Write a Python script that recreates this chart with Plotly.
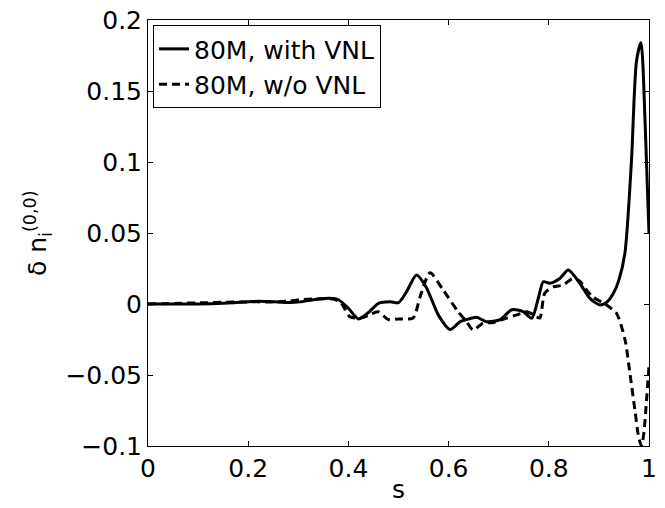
import plotly.graph_objects as go

# Solid: 80M, with VNL
s_with = [0, 0.1, 0.15, 0.2, 0.22, 0.25, 0.285, 0.303, 0.33, 0.363, 0.38, 0.40, 0.42, 0.44,
          0.46, 0.483, 0.5, 0.515, 0.536, 0.555, 0.58, 0.603, 0.623, 0.636, 0.656, 0.676,
          0.703, 0.726, 0.749, 0.766, 0.779, 0.789, 0.802, 0.822, 0.839, 0.862, 0.882, 0.902,
          0.915, 0.929, 0.940, 0.952, 0.965, 0.975, 0.984, 0.992, 1.0]
v_with = [0, 0, 0.0005, 0.0015, 0.002, 0.0015, 0.001, 0.0015, 0.003, 0.004, 0.003, -0.003,
          -0.0105, -0.006, 0.0005, 0.0016, 0.001, 0.008, 0.0204, 0.012, -0.008, -0.018,
          -0.0124, -0.011, -0.0094, -0.0125, -0.011, -0.004, -0.0054, -0.010, 0.004, 0.0157,
          0.0146, 0.018, 0.024, 0.0146, 0.004, -0.0007, 0.001, 0.0075, 0.017, 0.036, 0.101,
          0.171, 0.184, 0.13, 0.05]

# Dashed: 80M, w/o VNL
s_wo = [0, 0.2, 0.25, 0.28, 0.303, 0.33, 0.37, 0.385, 0.403, 0.423, 0.44, 0.459, 0.48, 0.50,
        0.529, 0.543, 0.563, 0.589, 0.619, 0.636, 0.649, 0.669, 0.689, 0.716, 0.736, 0.756,
        0.772, 0.782, 0.792, 0.809, 0.829, 0.848, 0.862, 0.875, 0.888, 0.915, 0.935, 0.952,
        0.962, 0.972, 0.979, 0.985, 0.99, 0.995, 1.0]
v_wo = [0, 0.0015, 0.0015, 0.002, 0.003, 0.0035, 0.0035, 0.001, -0.009, -0.01, -0.008,
        -0.0054, -0.011, -0.0105, -0.0099, 0.005, 0.022, 0.0099, -0.0054, -0.0125, -0.0183,
        -0.0134, -0.013, -0.0099, -0.0077, -0.0054, -0.008, -0.0099, 0.0077, 0.012, 0.0134,
        0.018, 0.016, 0.01, 0.005, -0.0007, -0.0065, -0.025, -0.049, -0.075, -0.093, -0.1,
        -0.09, -0.068, -0.044]

x_ticks = [0, 0.2, 0.4, 0.6, 0.8, 1]
x_tick_labels = ["0", "0.2", "0.4", "0.6", "0.8", "1"]
y_ticks = [-0.1, -0.05, 0, 0.05, 0.1, 0.15, 0.2]
y_tick_labels = ["\u22120.1", "\u22120.05", "0", "0.05", "0.1", "0.15", "0.2"]

FONT = "DejaVu Sans, Liberation Sans, Arial, sans-serif"
FS = 25

fig = go.Figure()
fig.add_trace(go.Scatter(x=s_with, y=v_with, mode="lines", name="80M, with VNL",
                         line=dict(color="black", width=3, shape="spline", smoothing=0.7)))
fig.add_trace(go.Scatter(x=s_wo, y=v_wo, mode="lines", name="80M, w/o VNL",
                         line=dict(color="black", width=3, dash="8px,5px",
                                   shape="spline", smoothing=0.7)))

axis_common = dict(showgrid=False, zeroline=False, showline=True, linecolor="black",
                   linewidth=1, mirror="allticks", ticks="inside", ticklen=5,
                   tickcolor="black", automargin=False,
                   tickfont=dict(family=FONT, size=FS, color="black"))

fig.update_layout(
    width=665, height=508,
    margin=dict(l=148, r=16, t=20, b=62),
    paper_bgcolor="white", plot_bgcolor="white",
    font=dict(family=FONT, size=FS, color="black"),
    xaxis=dict(range=[0, 1], tickvals=x_ticks, ticktext=x_tick_labels, **axis_common),
    yaxis=dict(range=[-0.1, 0.2], tickvals=y_ticks, ticktext=y_tick_labels, **axis_common),
    legend=dict(x=0.01, y=0.988, xanchor="left", yanchor="top",
                bgcolor="white", bordercolor="black", borderwidth=1,
                font=dict(family=FONT, size=FS), tracegroupgap=0,
                itemwidth=30),
    showlegend=True,
    annotations=[
        dict(text="\u03b4 n<sub>i</sub><sup>(0,0)</sup>", xref="paper", yref="paper",
             x=-0.2196, y=0.5, xanchor="center", yanchor="middle", textangle=-90,
             showarrow=False, font=dict(family=FONT, size=FS, color="black")),
        dict(text="s", xref="paper", yref="paper", x=0.5, y=-0.103,
             xanchor="center", yanchor="middle", showarrow=False,
             font=dict(family=FONT, size=FS, color="black")),
    ],
)

fig.write_html("out.html", config={"displayModeBar": False},
               post_script="document.body.style.margin='0';document.body.style.padding='0';")
